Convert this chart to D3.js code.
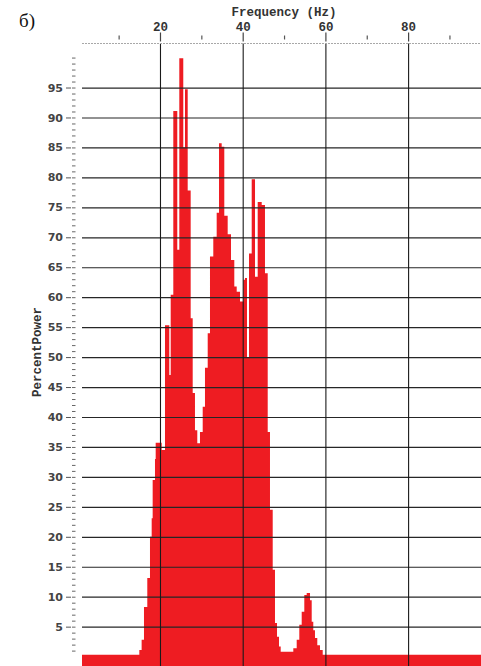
<!DOCTYPE html>
<html><head><meta charset="utf-8">
<script src="https://cdn.jsdelivr.net/npm/d3@7"></script>
<style>
html,body{margin:0;padding:0;background:#fff;overflow:hidden}
svg{display:block}
</style></head>
<body>
<svg id="c" width="481" height="666"></svg>
<script>
// Bin start frequency (Hz) and percent power of each bin
const binStart = [1.14, 15.0, 15.56, 16.13, 16.93, 17.58, 17.99, 18.23, 18.79, 18.96,
  20.41, 21.21, 22.25, 22.59, 23.22, 24.18, 24.67, 25.63, 26.05, 26.70,
  27.42, 27.91, 28.46, 29.02, 29.67, 30.33, 30.88, 31.54, 32.09, 32.89,
  33.71, 34.27, 34.92, 35.55, 36.37, 37.17, 37.97, 38.55, 39.35, 40.15,
  40.56, 41.04, 41.53, 42.18, 42.98, 43.63, 44.60, 45.39, 46.05, 46.60,
  47.26, 47.81, 48.30, 48.78, 49.19, 52.24, 53.06, 53.69, 54.27, 54.90,
  55.48, 56.28, 56.69, 57.07, 57.48, 58.04, 58.69, 59.35];
const power = [0.3, 1.1, 2.8, 8.3, 13.1, 20, 23.1, 29.5, 33, 35.7,
  34.5, 55.3, 47, 60.4, 91.1, 67.9, 99.9, 85, 94.7, 77.8,
  56.5, 44, 37.8, 35.6, 37.5, 41.7, 48.2, 54, 66.8, 70.1,
  74.1, 85.7, 85.1, 73.6, 70.5, 66.2, 61.8, 60.9, 59.3, 62.9,
  63.2, 50, 67.3, 79.7, 63.4, 75.9, 75.4, 64, 37.5, 24.5,
  14.5, 5.6, 3.3, 1.7, 0.8, 1.4, 2.8, 5.3, 7.5, 10.3,
  10.6, 9.4, 5.8, 4.4, 3.1, 1.9, 1.1, 0.3];
const freqEnd = 97.63;
const xMajorTicks = [20, 40, 60, 80];
const xMinorTicks = [10, 30, 50, 70, 90];
const yMajorTicks = [5,10,15,20,25,30,35,40,45,50,55,60,65,70,75,80,85,90,95];
const yMinorTicks = d3.range(1, 101);
const xTitle = "Frequency (Hz)";
const yTitle = "PercentPower";
const panelLabel = "б)";

const svg = d3.select("#c");
const L = 82, R = 481, T = 43.5, B = 666;
const x = d3.scaleLinear().domain([1.14, freqEnd]).range([L, R]);
const y = d3.scaleLinear().domain([-1.57, 102.35]).range([B, T]);

const pts = binStart.map((f, i) => [f, power[i]]);
pts.push([freqEnd, power[power.length - 1]]);

svg.append("path")
  .datum(pts)
  .attr("fill", "#ee1c22")
  .attr("d", d3.area().curve(d3.curveStepAfter)
    .x(d => x(d[0])).y0(y(-1.57)).y1(d => y(d[1])));

// horizontal grid
const hg = svg.append("g").attr("transform", `translate(${L},0)`)
  .call(d3.axisLeft(y).tickValues(yMajorTicks).tickSize(-(R - L)).tickFormat(""));
hg.select(".domain").remove();
hg.selectAll("line").attr("stroke", "#262626").attr("stroke-width", 1.2);

// vertical grid
const vg = svg.append("g").attr("transform", `translate(0,${T})`)
  .call(d3.axisBottom(x).tickValues(xMajorTicks).tickSize(B - T).tickFormat(""));
vg.select(".domain").remove();
vg.selectAll("line").attr("stroke", "#1a1a1a").attr("stroke-width", 1.1);

// top axis line
svg.append("line").attr("x1", L).attr("x2", R).attr("y1", T).attr("y2", T)
  .attr("stroke", "#a8a8a8").attr("stroke-width", 1).attr("stroke-dasharray", "2,1");

// top major ticks + labels
const tx = svg.append("g").attr("transform", `translate(0,${T - 2})`)
  .call(d3.axisTop(x).tickValues(xMajorTicks).tickSize(9).tickPadding(1.5).tickFormat(d3.format("d")));
tx.select(".domain").remove();
tx.selectAll("line").attr("stroke", "#444").attr("stroke-width", 1.2);
tx.selectAll("text").attr("font-family", "'Liberation Mono', monospace")
  .attr("font-weight", "bold").attr("font-size", 12.5).attr("fill", "#333");

// top minor ticks
const tm = svg.append("g").attr("transform", `translate(0,${T - 4})`)
  .call(d3.axisTop(x).tickValues(xMinorTicks).tickSize(4).tickFormat(""));
tm.select(".domain").remove();
tm.selectAll("line").attr("stroke", "#555").attr("stroke-width", 1.2);

// y major ticks + labels
const ya = svg.append("g").attr("transform", `translate(71,0)`)
  .call(d3.axisLeft(y).tickValues(yMajorTicks).tickSize(5).tickPadding(3).tickFormat(d3.format("d")));
ya.select(".domain").remove();
ya.selectAll("line").attr("stroke", "#555").attr("stroke-width", 1);
ya.selectAll("text").attr("font-family", "'DejaVu Sans', sans-serif")
  .attr("font-weight", "bold").attr("font-size", 11).attr("fill", "#444");

// y minor ticks
const ym = svg.append("g").attr("transform", `translate(75.5,0)`)
  .call(d3.axisLeft(y).tickValues(yMinorTicks).tickSize(3.5).tickFormat(""));
ym.select(".domain").remove();
ym.selectAll("line").attr("stroke", "#666").attr("stroke-width", 1);

// titles
svg.append("text").attr("x", 284).attr("y", 15.5).attr("text-anchor", "middle")
  .attr("font-family", "'Liberation Mono', monospace").attr("font-weight", "bold")
  .attr("font-size", 12.5).attr("fill", "#333").text(xTitle);
svg.append("text").attr("transform", "translate(41,352) rotate(-90)").attr("text-anchor", "middle")
  .attr("font-family", "'Liberation Mono', monospace").attr("font-weight", "bold")
  .attr("font-size", 12.5).attr("fill", "#333").text(yTitle);
svg.append("text").attr("x", 19).attr("y", 27)
  .attr("font-family", "'Liberation Serif', serif").attr("font-size", 19)
  .attr("fill", "#111").text(panelLabel);
</script>
</body></html>
